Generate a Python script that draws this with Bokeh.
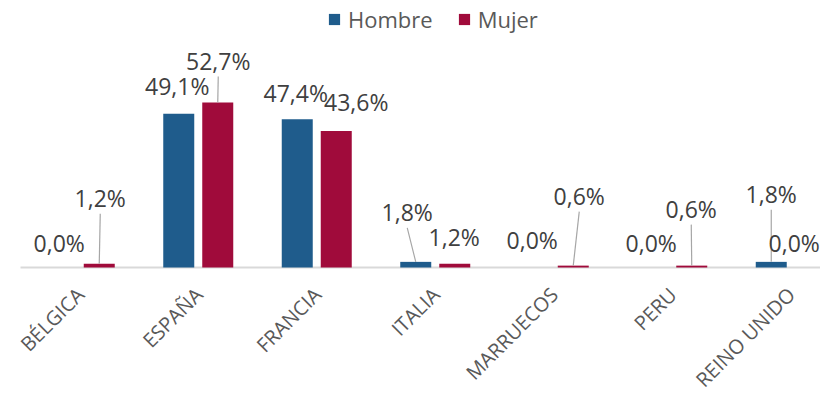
import math
from bokeh.plotting import figure
from bokeh.models import ColumnDataSource, Range1d, Legend, LegendItem
from bokeh.core.properties import value
from bokeh.embed import file_html
from bokeh.resources import INLINE

# ---------------- data ----------------
categories = ["BÉLGICA", "ESPAÑA", "FRANCIA", "ITALIA", "MARRUECOS", "PERU", "REINO UNIDO"]
series_names = ["Hombre", "Mujer"]
hombre = [0.0, 49.1, 47.4, 1.8, 0.0, 0.0, 1.8]
mujer = [1.2, 52.7, 43.6, 1.2, 0.6, 0.6, 0.0]

# ---------------- style ----------------
colors = ["#1F5C8C", "#A00B3B"]
FONT = "Open Sans"
W, H = 820, 396
ORIGIN_X, ORIGIN_Y = 20, 267   # pixel position of (0, 0) from top-left
CAT_PX = 118.5          # pixels per category
PCT_PX = 3.13           # pixels per percent
BAR_W = 31 / CAT_PX
BAR_OFF = 19.5 / CAT_PX
CAT_LBL_DROP = 14       # px below axis for the anchor of category labels
CAT_LBL_DX = -9

# label placements (pixel offsets of label centre from bar top centre), as in the original
hombre_lbl_off = [(-1, -25), (-1.5, -28), (-1.5, -26.5), (-8.5, -50), (-2, -28), (-1.5, -25), (0, -68)]
mujer_lbl_off = [(1, -66), (0.5, -42), (20, -29.5), (-0.5, -27), (6, -70), (-0.5, -57), (-16, -25)]
hombre_leader = [False, False, False, True, False, False, True]
mujer_leader = [True, True, False, False, True, True, False]
LEADER_START = 16  # px below label centre

x_start = -ORIGIN_X / CAT_PX
x_end = (W - ORIGIN_X) / CAT_PX
y_start = -(H - ORIGIN_Y) / PCT_PX
y_end = ORIGIN_Y / PCT_PX

p = figure(width=W, height=H, output_backend="svg", toolbar_location=None,
           x_range=Range1d(x_start, x_end), y_range=Range1d(y_start, y_end),
           min_border_left=0, min_border_right=0, min_border_top=0, min_border_bottom=0)
p.outline_line_color = None
p.grid.grid_line_color = None
p.axis.visible = False
p.background_fill_color = "white"
p.border_fill_color = "white"

centers = [i + 0.5 for i in range(len(categories))]

# category axis line
p.segment(x0=[0], y0=[0], x1=[x_end], y1=[0], line_color="#D9D9D9", line_width=2)

def fmt(v):
    return f"{v:.1f}".replace(".", ",") + "%"

legend_items = []
for k, (vals, offs, leads) in enumerate([(hombre, hombre_lbl_off, hombre_leader),
                                         (mujer, mujer_lbl_off, mujer_leader)]):
    shift = -BAR_OFF if k == 0 else BAR_OFF
    xs = [c + shift for c in centers]
    src = ColumnDataSource(dict(x=xs, top=vals))
    r = p.vbar(x="x", top="top", width=BAR_W, bottom=0, source=src,
               fill_color=colors[k], line_color=None)
    legend_items.append(LegendItem(label=series_names[k], renderers=[r]))

    lx = [x + dx / CAT_PX for x, (dx, dy) in zip(xs, offs)]
    ly = [v - dy / PCT_PX for v, (dx, dy) in zip(vals, offs)]
    lsrc = ColumnDataSource(dict(x=lx, y=ly, t=[fmt(v) for v in vals]))
    p.text(x="x", y="y", text="t", source=lsrc, text_align="center",
           text_baseline="middle", text_font=value(FONT), text_font_size="23px",
           text_color="#404040")

    x0 = [a for a, l in zip(lx, leads) if l]
    y0 = [b - LEADER_START / PCT_PX for b, l in zip(ly, leads) if l]
    x1 = [a for a, l in zip(xs, leads) if l]
    y1 = [v for v, l in zip(vals, leads) if l]
    p.segment(x0=x0, y0=y0, x1=x1, y1=y1, line_color="#A6A6A6", line_width=1.2)

# category labels (rotated 45 degrees, ending under the category centre)
csrc = ColumnDataSource(dict(x=[c + CAT_LBL_DX / CAT_PX for c in centers],
                             y=[-CAT_LBL_DROP / PCT_PX] * len(centers),
                             t=categories))
p.text(x="x", y="y", text="t", source=csrc, angle=math.pi / 4, text_align="right",
       text_baseline="top", text_font=value(FONT), text_font_size="20px",
       text_color="#595959")

legend = Legend(items=legend_items, orientation="horizontal",
                location=(327, H - 21 - 13),
                border_line_color=None, background_fill_alpha=0, padding=0, margin=0,
                glyph_width=14, glyph_height=14, label_standoff=7, spacing=24,
                label_text_font=FONT, label_text_font_size="22px", label_text_color="#595959")
p.add_layout(legend)

open("out.html", "w").write(file_html(p, INLINE))
